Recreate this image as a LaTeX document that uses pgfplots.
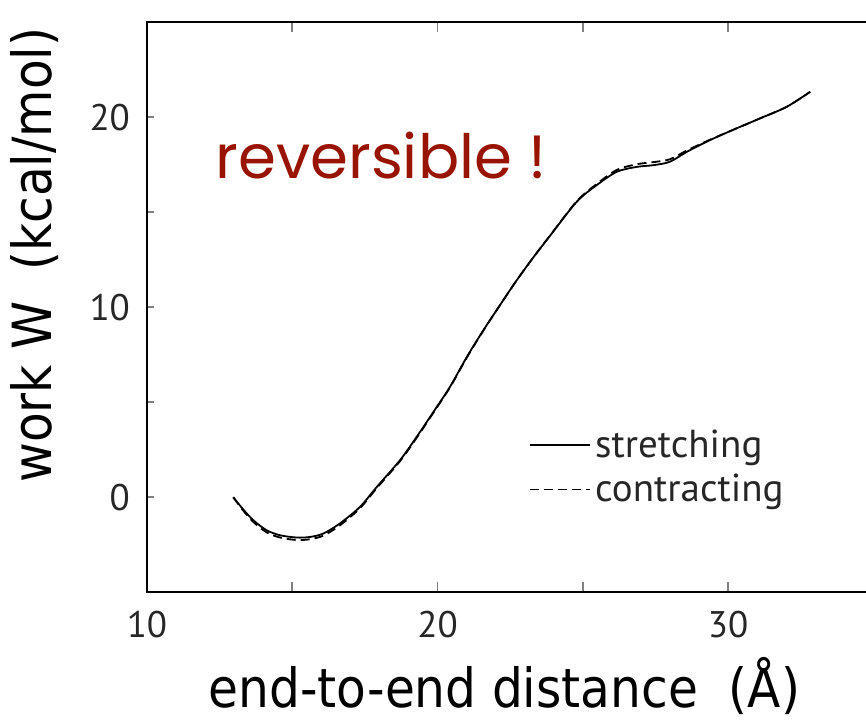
\documentclass[border=0pt]{standalone}
\usepackage{pgfplots}
\pgfplotsset{compat=1.18}
\usepackage{fontspec}
\setmainfont{PT Sans}
\newfontfamily\labelfont{DejaVu Sans Condensed}
\newfontfamily\notefont{Poppins}
\definecolor{notered}{RGB}{153,20,0}

% work along the pulling coordinate, forward pull
\pgfplotstableread{
x      w
12.97  0.00
13.30 -0.62
13.66 -1.21
14.12 -1.74
14.58 -2.00
15.15 -2.12
15.61 -2.09
16.07 -1.91
16.64 -1.38
17.33 -0.51
17.91  0.54
18.71  1.95
19.28  3.17
19.86  4.49
20.43  5.81
21.01  7.38
21.58  8.79
22.15 10.11
22.73 11.42
23.30 12.62
23.87 13.75
24.79 15.54
25.48 16.42
26.17 17.12
26.86 17.38
27.43 17.47
28.00 17.65
28.58 18.17
29.38 18.79
30.30 19.41
31.10 19.93
32.02 20.54
32.83 21.33
}\stretchtab

% work along the pulling coordinate, reverse pull
\pgfplotstableread{
x      w
12.97  0.00
13.30 -0.68
13.66 -1.30
14.12 -1.85
14.58 -2.12
15.15 -2.25
15.61 -2.21
16.07 -2.02
16.64 -1.48
17.33 -0.58
17.91  0.48
18.71  1.90
19.28  3.12
19.86  4.45
20.43  5.78
21.01  7.35
21.58  8.77
22.15 10.10
22.73 11.42
23.30 12.62
23.87 13.76
24.79 15.57
25.48 16.48
26.17 17.22
26.86 17.52
27.43 17.63
28.00 17.78
28.58 18.24
29.38 18.81
30.30 19.41
31.10 19.93
32.02 20.54
32.83 21.33
}\contracttab

\begin{document}
\begin{tikzpicture}
\begin{axis}[
  scale only axis,
  width=363pt, height=285pt,
  xmin=10, xmax=35, ymin=-5, ymax=25,
  clip=false,
  axis line style={line width=0.9pt},
  tick align=inside,
  xtick={10,15,20,25,30},
  xticklabels={10,,20,,30},
  ytick={0,5,10,15,20},
  yticklabels={0,,10,,20},
  xtick style={line width=0.9pt, /pgfplots/major tick length=5pt},
  ytick style={line width=0.9pt, /pgfplots/major tick length=3.5pt},
  /pgf/number format/assume math mode=true,
  tick label style={font=\fontsize{18.5}{20}\selectfont, text=black!85},
  xticklabel style={yshift=-6pt},
  yticklabel style={xshift=-5pt},
  legend style={draw=none, fill=none, at={(axis cs:22.95,4.0)}, anchor=north west,
    font=\fontsize{19.5}{21}\selectfont, row sep=3pt, text=black!85},
  legend cell align=left,
  legend image code/.code={\draw[#1, line width=0.8pt] (0pt,0pt) -- (30pt,0pt);},
]
\addplot[black, line width=0.9pt, smooth, tension=0.5] table[x=x, y=w] {\stretchtab};
\addlegendentry{stretching}
\addplot[black, line width=0.9pt, dash pattern=on 4.5pt off 2.5pt, smooth, tension=0.5] table[x=x, y=w] {\contracttab};
\addlegendentry{contracting}

\node[font=\labelfont\fontsize{27}{30}\selectfont] at (axis cs:22.3,-9.92) {end-to-end distance\ \ (Å)};
\node[font=\labelfont\fontsize{27}{30}\selectfont, rotate=90] at (axis cs:6.14,12.74) {work W\ \ (kcal/mol)};
\node[font=\notefont\fontsize{30.5}{33}\selectfont, text=notered] at (axis cs:18.06,18.0) {reversible !};

\coordinate (bbll) at (axis cs:4.94,-11.79);
\coordinate (bbur) at (axis cs:34.75,26.16);
\end{axis}
\pgfresetboundingbox
\path[use as bounding box] (bbll) rectangle (bbur);
\end{tikzpicture}
\end{document}
